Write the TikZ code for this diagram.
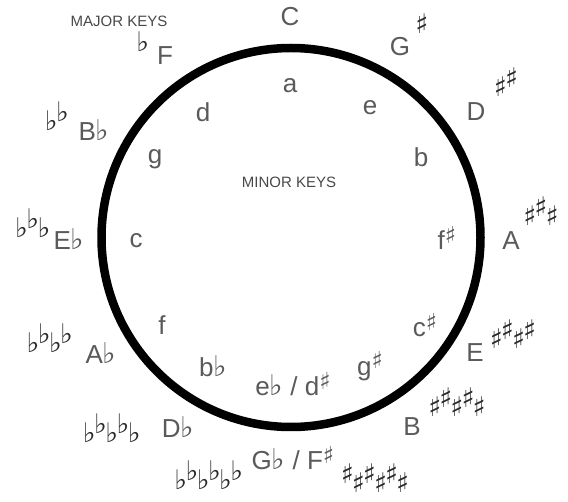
\documentclass[tikz,border=0pt]{standalone}
\usepackage{fontspec}
\setmainfont{Liberation Sans}
\newfontfamily\sym{DejaVu Sans}
\usepackage{graphicx}
\usetikzlibrary{positioning}

\definecolor{keygray}{HTML}{5A5A5A}
\definecolor{accgray}{HTML}{2A2A2A}

% accidentals
\newcommand{\fl}{{\sym ♭}\kern-1.5pt}
\newcommand{\sh}{{\sym ♯}\kern-2pt}
\newcommand{\up}[1]{\raisebox{0.35em}{#1}}
\newcommand{\kflat}{{\sym\scalebox{1.1}{♭}}}
\newcommand{\ksharp}{\raisebox{0.25em}{\sym\scalebox{0.9}{♯}}}

\begin{document}
\begin{tikzpicture}[x=1pt,y=-1pt,
    key/.style={text=keygray,font=\fontsize{26}{26}\selectfont,inner sep=0pt},
    acc/.style={text=accgray,font=\fontsize{27}{27}\selectfont,inner sep=0pt},
    title/.style={text=keygray!80!black,font=\fontsize{15}{15}\selectfont,inner sep=0pt}]

    \useasboundingbox (0,0) rectangle (568,502);

    %Cercle
    \draw[line width=8.5pt] (291,237.5) circle (189.5);

    %Titres
    \node[title] (major) at (119,21) {MAJOR KEYS};
    \node[title] (minor) at (289,182) {MINOR KEYS};

    %Tonalites majeures
    \node[key] (majC) at (290,17) {C};
    \node[key] (majG) at (400,47) {G};
    \node[key] (majD) at (476,112) {D};
    \node[key] (majA) at (511,241) {A};
    \node[key] (majE) at (475,353) {E};
    \node[key] (majB) at (412,427) {B};
    \node[key] (majGb) at (293,458) {G\kflat\ / F\ksharp};
    \node[key] (majDb) at (178,427) {D\kflat};
    \node[key] (majAb) at (101,353) {A\kflat};
    \node[key] (majEb) at (69,239) {E\kflat};
    \node[key] (majBb) at (94,130) {B\kflat};
    \node[key] (majF) at (165,56) {F};

    %Armures
    \node[acc] (shG) at (421,24) {\sh};
    \node[acc] (shD) at (505,82) {\sh\up\sh};
    \node[acc] (shA) at (540,211) {\sh\up\sh\sh};
    \node[acc] (shE) at (512,334) {\sh\up\sh\sh\up\sh};
    \node[acc] (shB) at (456,402) {\sh\up\sh\sh\up\sh\sh};
    \node[acc] (shF) at (374,478) {\up\sh\sh\up\sh\sh\up\sh\sh};
    \node[acc] (flGb) at (208,475) {\fl\up\fl\fl\up\fl\fl\up\fl};
    \node[acc] (flDb) at (111,428) {\fl\up\fl\fl\up\fl\fl};
    \node[acc] (flAb) at (49,338) {\fl\up\fl\fl\up\fl};
    \node[acc] (flEb) at (32,223) {\fl\up\fl\fl};
    \node[acc] (flBb) at (56,116) {\fl\up\fl};
    \node[acc] (flF) at (142,42) {\fl};

    %Tonalites mineures
    \node[key] (minA) at (290,86) {a};
    \node[key] (minE) at (370,108) {e};
    \node[key] (minB) at (421,157) {b};
    \node[key] (minFs) at (447,238) {f\ksharp};
    \node[key] (minCs) at (425,325) {c\ksharp};
    \node[key] (minGs) at (370,366) {g\ksharp};
    \node[key] (minEb) at (293,384) {e\kflat\ / d\ksharp};
    \node[key] (minBb) at (213,366) {b\kflat};
    \node[key] (minF) at (162,325) {f};
    \node[key] (minC) at (136,241) {c};
    \node[key] (minG) at (155,159) {g};
    \node[key] (minD) at (203,112) {d};

\end{tikzpicture}
\end{document}
